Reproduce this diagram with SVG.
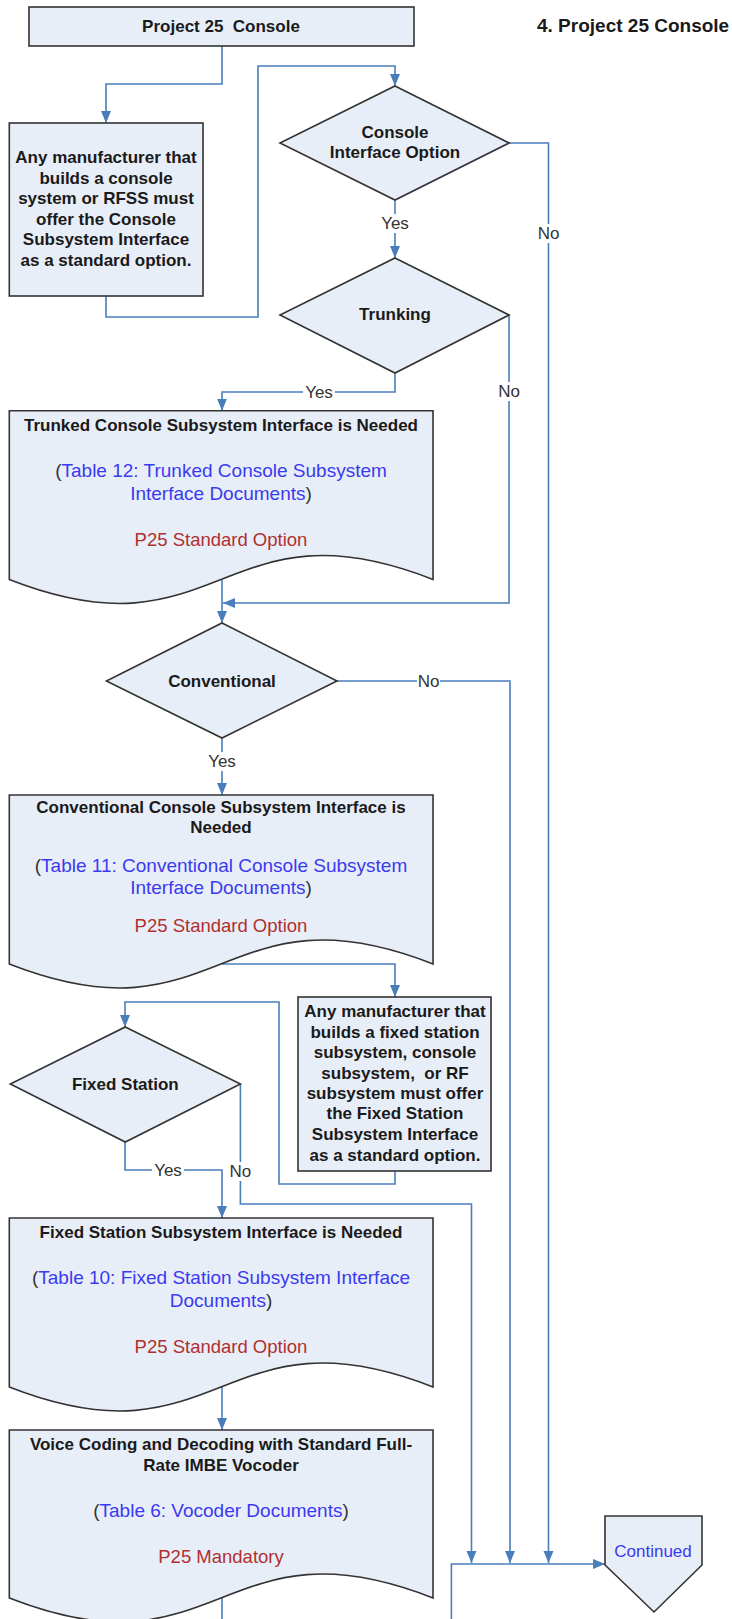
<svg xmlns="http://www.w3.org/2000/svg" width="732" height="1619" viewBox="0 0 732 1619">
<style>
.shape{fill:#e8eef8;stroke:#333;stroke-width:1.6}
.conn{fill:none;stroke:#4a7ebb;stroke-width:1.6}
.b{font-family:"Liberation Sans",Arial,sans-serif;font-weight:bold;font-size:17px;fill:#1a1a1a;text-anchor:middle}
.blue{font-family:"Liberation Sans",Arial,sans-serif;font-size:19px;fill:#333;text-anchor:middle}
.blue tspan.l{fill:#3a3af0}
.red{font-family:"Liberation Sans",Arial,sans-serif;font-size:18.5px;fill:#b03030;text-anchor:middle}
.lbl{font-family:"Liberation Sans",Arial,sans-serif;font-size:17px;fill:#333;text-anchor:middle}
.lbg{fill:#fff}
</style>
<defs>
<marker id="arr" markerUnits="userSpaceOnUse" markerWidth="12" markerHeight="12" viewBox="0 0 12 12" refX="12" refY="6" orient="auto">
<path d="M0,1 L12,6 L0,11 Z" fill="#4a7ebb"/>
</marker>
</defs>
<rect width="732" height="1619" fill="#fff"/>

<g id="connectors">
<path class="conn" d="M222,46 V84 H106 V123" marker-end="url(#arr)"/>
<path class="conn" d="M106,296 V317 H258 V66 H395 V86" marker-end="url(#arr)"/>
<path class="conn" d="M509,143 H548.5 V1563" marker-end="url(#arr)"/>
<path class="conn" d="M395,200 V258" marker-end="url(#arr)"/>
<path class="conn" d="M395,373 V392 H222 V410.7" marker-end="url(#arr)"/>
<path class="conn" d="M509,315 V603 H223" marker-end="url(#arr)"/>
<path class="conn" d="M222,580 V623" marker-end="url(#arr)"/>
<path class="conn" d="M337,681 H510 V1563" marker-end="url(#arr)"/>
<path class="conn" d="M222,738 V795" marker-end="url(#arr)"/>
<path class="conn" d="M222,964 H395 V997" marker-end="url(#arr)"/>
<path class="conn" d="M395,1171 V1184 H279 V1002 H125 V1027" marker-end="url(#arr)"/>
<path class="conn" d="M125,1142 V1170 H222 V1218" marker-end="url(#arr)"/>
<path class="conn" d="M240.4,1084 V1204 H471.5 V1563" marker-end="url(#arr)"/>
<path class="conn" d="M222,1387 V1430" marker-end="url(#arr)"/>
<path class="conn" d="M222,1598 V1619"/>
<path class="conn" d="M451.4,1619 V1564 H605" marker-end="url(#arr)"/>
<rect class="lbg" x="379" y="214" width="32" height="19"/>
<text class="lbl" x="395" y="229">Yes</text>
<rect class="lbg" x="537" y="224" width="23" height="19"/>
<text class="lbl" x="548.5" y="239">No</text>
<rect class="lbg" x="303" y="383" width="32" height="19"/>
<text class="lbl" x="319" y="398">Yes</text>
<rect class="lbg" x="498" y="382" width="23" height="19"/>
<text class="lbl" x="509" y="397">No</text>
<rect class="lbg" x="417" y="672" width="23" height="19"/>
<text class="lbl" x="428.6" y="687">No</text>
<rect class="lbg" x="206" y="752" width="32" height="19"/>
<text class="lbl" x="222" y="767">Yes</text>
<rect class="lbg" x="152" y="1161" width="32" height="19"/>
<text class="lbl" x="168" y="1176">Yes</text>
<rect class="lbg" x="229" y="1162" width="23" height="19"/>
<text class="lbl" x="240.4" y="1177">No</text>
</g>

<g id="title">
<text x="537" y="32" style="font-family:'Liberation Sans',Arial,sans-serif;font-weight:bold;font-size:19px;fill:#1a1a1a">4. Project 25 Console</text>
</g>

<g id="start">
<rect class="shape" x="29" y="7" width="385" height="39"/>
<text class="b" x="221" y="32" style="white-space:pre">Project 25  Console</text>
</g>

<g id="note1">
<rect class="shape" x="9.3" y="123" width="193.7" height="173"/>
<text class="b" x="106" y="163">Any manufacturer that</text>
<text class="b" x="106" y="183.6">builds a console</text>
<text class="b" x="106" y="204.2">system or RFSS must</text>
<text class="b" x="106" y="224.8">offer the Console</text>
<text class="b" x="106" y="245.4">Subsystem Interface</text>
<text class="b" x="106" y="266">as a standard option.</text>
</g>

<g id="d-console">
<path class="shape" d="M395,86 L509,143 L395,200 L280,143 Z"/>
<text class="b" x="395" y="138">Console</text>
<text class="b" x="395" y="158">Interface Option</text>
</g>

<g id="d-trunking">
<path class="shape" d="M395,258 L509,315 L395,373 L280,315 Z"/>
<text class="b" x="395" y="320">Trunking</text>
</g>

<g id="doc-trunked">
<path class="shape" d="M9.3,410.7 H433 V579.5 C221,496.5 221,662.5 9.3,579.5 Z"/>
<text class="b" x="221" y="431">Trunked Console Subsystem Interface is Needed</text>
<text class="blue" x="221" y="477">(<tspan class="l">Table 12: Trunked Console Subsystem</tspan></text>
<text class="blue" x="221" y="499.5"><tspan class="l">Interface Documents</tspan>)</text>
<text class="red" x="221" y="545.5">P25 Standard Option</text>
</g>

<g id="d-conventional">
<path class="shape" d="M222,623 L337,681 L222,738 L106.4,681 Z"/>
<text class="b" x="222" y="687">Conventional</text>
</g>

<g id="doc-conventional">
<path class="shape" d="M9.3,795 H433 V964 C221,881 221,1047 9.3,964 Z"/>
<text class="b" x="221" y="813">Conventional Console Subsystem Interface is</text>
<text class="b" x="221" y="833">Needed</text>
<text class="blue" x="221" y="872">(<tspan class="l">Table 11: Conventional Console Subsystem</tspan></text>
<text class="blue" x="221" y="894"><tspan class="l">Interface Documents</tspan>)</text>
<text class="red" x="221" y="931.5">P25 Standard Option</text>
</g>

<g id="note2">
<rect class="shape" x="298" y="997" width="193" height="174"/>
<text class="b" x="395" y="1017">Any manufacturer that</text>
<text class="b" x="395" y="1037.7">builds a fixed station</text>
<text class="b" x="395" y="1058.3">subsystem, console</text>
<text class="b" x="395" y="1078.7" style="white-space:pre">subsystem,  or RF</text>
<text class="b" x="395" y="1099.3">subsystem must offer</text>
<text class="b" x="395" y="1119.3">the Fixed Station</text>
<text class="b" x="395" y="1140">Subsystem Interface</text>
<text class="b" x="395" y="1160.7">as a standard option.</text>
</g>

<g id="d-fixed">
<path class="shape" d="M125.3,1027 L240.4,1084 L125.3,1142 L10.3,1084 Z"/>
<text class="b" x="125.3" y="1090">Fixed Station</text>
</g>

<g id="doc-fixed">
<path class="shape" d="M9.3,1218 H433 V1387 C221,1304 221,1470 9.3,1387 Z"/>
<text class="b" x="221" y="1238">Fixed Station Subsystem Interface is Needed</text>
<text class="blue" x="221" y="1283.5">(<tspan class="l">Table 10: Fixed Station Subsystem Interface</tspan></text>
<text class="blue" x="221" y="1307"><tspan class="l">Documents</tspan>)</text>
<text class="red" x="221" y="1352.5">P25 Standard Option</text>
</g>

<g id="doc-vocoder">
<path class="shape" d="M9.3,1430 H433 V1598 C221,1515 221,1681 9.3,1598 Z"/>
<text class="b" x="221" y="1450">Voice Coding and Decoding with Standard Full-</text>
<text class="b" x="221" y="1471">Rate IMBE Vocoder</text>
<text class="blue" x="221" y="1517">(<tspan class="l">Table 6: Vocoder Documents</tspan>)</text>
<text class="red" x="221" y="1562.5">P25 Mandatory</text>
</g>

<g id="continued">
<path class="shape" d="M605,1516 H702 V1565 L654,1612 L605,1565 Z"/>
<text x="653" y="1556.7" style="font-family:'Liberation Sans',Arial,sans-serif;font-size:17px;fill:#3a3af0;text-anchor:middle">Continued</text>
</g>
</svg>
